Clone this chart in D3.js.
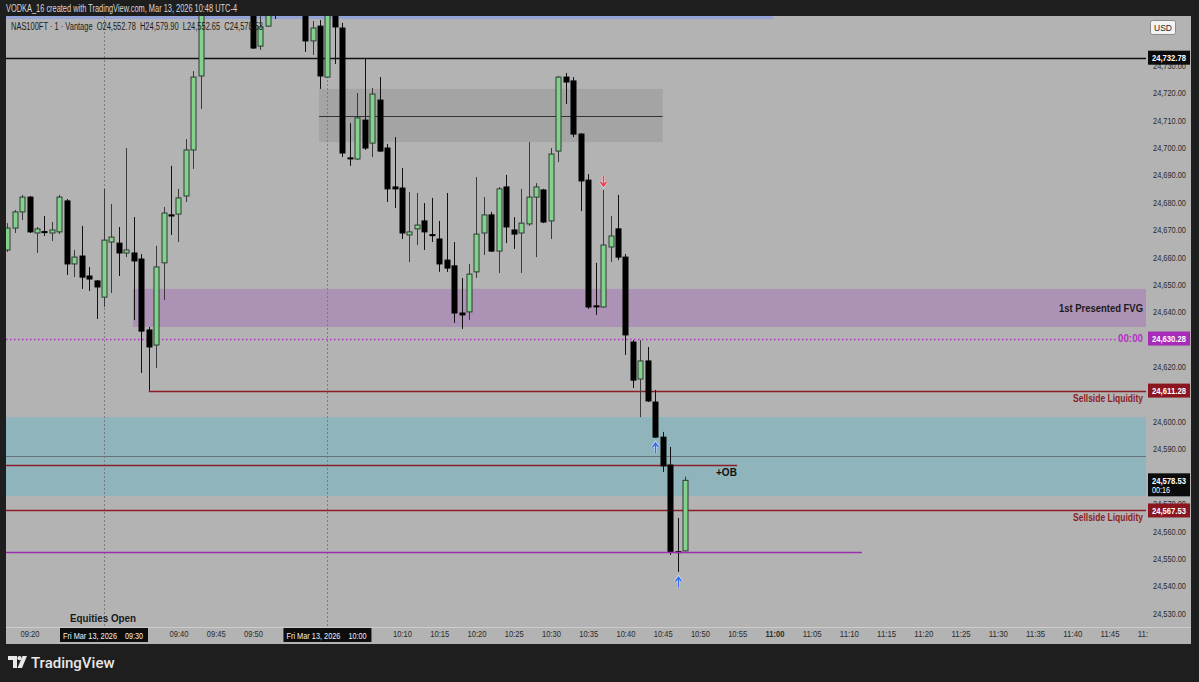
<!DOCTYPE html>
<html lang="en">
<head>
<meta charset="utf-8">
<title>NAS100FT 1m</title>
<script src="https://d3js.org/d3.v7.min.js"></script>
<style>
  html, body { margin: 0; padding: 0; background: #1e1e1e; }
  svg { display: block; font-family: "Liberation Sans", Arial, sans-serif; }
  .ax text { fill: #2b2b2b; font-size: 9.5px; }
</style>
</head>
<body>
<svg id="chart" width="1199" height="682"></svg>
<script>
// 1 minute bars, NAS100FT, Mar 13 2026
var times = ["09:17","09:18","09:19","09:20","09:21","09:22","09:23","09:24","09:25","09:26","09:27","09:28","09:29",
  "09:30","09:31","09:32","09:33","09:34","09:35","09:36","09:37","09:38","09:39","09:40","09:41","09:42","09:43","09:44",
  "09:45","09:46","09:47","09:48","09:49","09:50","09:51","09:52","09:53","09:54","09:55","09:56","09:57","09:58","09:59",
  "10:00","10:01","10:02","10:03","10:04","10:05","10:06","10:07","10:08","10:09","10:10","10:11","10:12","10:13","10:14",
  "10:15","10:16","10:17","10:18","10:19","10:20","10:21","10:22","10:23","10:24","10:25","10:26","10:27","10:28","10:29",
  "10:30","10:31","10:32","10:33","10:34","10:35","10:36","10:37","10:38","10:39","10:40","10:41","10:42","10:43","10:44",
  "10:45","10:46","10:47","10:48"];
var opens = [24662.6,24670.6,24676.5,24681.9,24668.8,24669.3,24668.8,24669.2,24680.5,24657.5,24660.4,24653.1,24651.3,
  24645.4,24665.5,24665.1,24661.5,24661.5,24659.3,24633.4,24627.9,24657.9,24675.4,24675.7,24682.3,24699.1,24726.1,24759,
  24767,24759,24775,24765,24754,24762,24737.0,24744.3,24753,24751,24760,24756,24754,24738.9,24744.3,
  24725.7,24751,24743.6,24696.2,24695.8,24710.0,24701.6,24717.3,24699.8,24685.6,24685.2,24668.1,24670.3,24673.2,24668.2,
  24666.6,24658.9,24656.8,24639.6,24640.0,24654.6,24668.8,24675.4,24662.2,24685.6,24669.9,24668.8,24672.1,24681.9,24684.5,
  24673.2,24698.7,24725.7,24724.3,24704.9,24688.1,24642.2,24641.8,24663.7,24670.3,24660.0,24629.0,24615.5,24622.1,24607.1,
  24594.3,24584.1,24552.5,24552.78];
var highs = [24672.4,24677.2,24682.7,24682.3,24671.0,24675.0,24672.8,24682.7,24681.2,24662.6,24671.4,24656.4,24651.6,
  24684.9,24679.4,24671.0,24699.8,24674.6,24661.1,24634.5,24664.1,24678.3,24693.3,24684.9,24703.1,24727.9,24764,24770,
  24772,24778,24780,24768,24766,24765,24749.5,24757,24760,24763,24768,24762,24757,24746.2,24746.5,
  24757,24755,24745.5,24708.9,24719.9,24732.7,24721.7,24725.7,24701.3,24703.8,24692.5,24683.8,24683.4,24679.7,24681.6,
  24673.2,24683.4,24665.5,24652.4,24657.5,24689.2,24681.9,24676.5,24685.6,24690.0,24674.6,24684.9,24702.0,24687.0,24684.9,
  24699.8,24726.1,24727.2,24725.7,24705.2,24690.3,24657.9,24684.5,24675.0,24682.7,24661.1,24629.7,24629.7,24627.2,24611.5,
  24596.2,24590.7,24564.8,24579.90];
var lows = [24661.9,24668.8,24673.5,24668.8,24661.5,24667.7,24665.9,24668.4,24653.5,24652.7,24648.4,24647.6,24637.4,
  24641.8,24646.9,24653.1,24660.0,24637.0,24617.7,24611.28,24619.5,24644.3,24668.1,24665.5,24680.1,24692.2,24714.1,24753,
  24756,24757,24763,24751,24750,24736.0,24735.6,24744.0,24746.9,24749,24755,24751,24734.9,24733.8,24721.4,
  24725.4,24730.5,24696.5,24693.3,24695.4,24699.1,24696.5,24698.4,24680.1,24677.9,24666.6,24658.2,24664.4,24662.6,24665.5,
  24654.6,24654.6,24636.0,24633.8,24637.0,24652.4,24660.8,24661.9,24654.2,24665.1,24663.0,24654.2,24671.4,24660.0,24672.4,
  24666.6,24694.7,24715.9,24703.8,24676.8,24641.1,24638.9,24641.6,24658.2,24658.9,24624.3,24612.2,24601.6,24607.1,24594.0,
  24581.6,24551.3,24545.1,24552.65];
var closes = [24670.6,24676.5,24681.9,24669.2,24670.3,24669.1,24669.9,24681.9,24657.5,24660.0,24652.7,24652.0,24649.1,
  24666.2,24667.3,24661.5,24662.6,24658.6,24633.0,24627.2,24656.4,24676.1,24675.0,24681.6,24699.1,24725.7,24759,24767,
  24759,24775,24765,24754,24762,24736.3,24744.0,24753,24751,24760,24756,24754,24738.9,24743.6,24726.1,
  24751,24744.0,24698.0,24695.9,24710.8,24699.8,24719.5,24698.7,24684.9,24684.9,24668.8,24669.2,24671.7,24669.2,24668.0,
  24657.5,24656.0,24639.6,24638.9,24653.8,24668.4,24675.4,24662.2,24684.9,24671.0,24668.4,24672.4,24681.9,24685.6,24672.8,
  24697.6,24725.7,24723.9,24704.9,24687.8,24641.8,24642.0,24664.4,24667.7,24660.0,24631.6,24615.1,24622.1,24607.5,24594.3,
  24583.8,24552.4,24552.4,24578.53];

// price & time axis labels (24,610 and 24,630 sit under the badges)
var priceTicks = [24530,24540,24550,24560,24570,24580,24590,24600,24620,24640,24650,24660,24670,24680,24690,24700,24710,24720,24730];
var timeTicks = ["09:20","09:40","09:45","09:50","10:10","10:15","10:20","10:25","10:30","10:35","10:40","10:45","10:50",
  "10:55","11:00","11:05","11:10","11:15","11:20","11:25","11:30","11:35","11:40","11:45","11:50"];
var dateTicks = ["09:30","10:00"];

// drawings: zones [top, bottom, from, to]
var greyZone = [24721.4, 24702.0, "09:58:52", "10:45:00"];
var fvgZone = [24648.4, 24634.5, "09:33:53", null];
var obZone = [24601.6, 24572.8, null, null];
// horizontal levels
var levelHigh = 24732.78, greyMid = 24711.5, midnightOpen = 24630.28;
var sellside1 = 24611.28, obMid = 24587.4, obLine = 24584.1, sellside2 = 24567.53, lowLine = 24552.4;
var lastPrice = 24578.53;

var parseHM = d3.timeParse("%H:%M"), parseHMS = d3.timeParse("%H:%M:%S");
function T(s) { return s.length === 5 ? parseHM(s) : parseHMS(s); }
// squeeze text to the width it has in the screenshot
function fit(sel, w) { return sel.attr("textLength", w).attr("lengthAdjust", "spacingAndGlyphs"); }

var L = 6, R = 1146, AR = 1191, TOP = 16, PB = 627, BOT = 644;

var x = d3.scaleTime().domain([T("09:30"), T("10:48")]).range([104, 685]);
var y = d3.scaleLinear().domain([24530, 24640]).range([613.3, 311.9]);

var svg = d3.select("#chart");
var defs = svg.append("defs");
defs.append("clipPath").attr("id", "plotClip").append("rect")
  .attr("x", L).attr("y", TOP).attr("width", R - L).attr("height", PB - TOP);
defs.append("clipPath").attr("id", "timeClip").append("rect")
  .attr("x", L).attr("y", PB).attr("width", R + 2 - L).attr("height", BOT - PB);

// header
fit(svg.append("text").attr("x", 6).attr("y", 12).attr("fill", "#d6d6d6").attr("font-size", 10)
  .text("VODKA_16 created with TradingView.com, Mar 13, 2026 10:48 UTC-4"), 231);

// pane
svg.append("rect").attr("x", L).attr("y", TOP).attr("width", AR - L).attr("height", BOT - TOP).attr("fill", "#b3b3b3");

var plot = svg.append("g").attr("clip-path", "url(#plotClip)");

function xr(t) { return t === null ? R : x(T(t)); }
function xl(t) { return t === null ? L : x(T(t)); }

plot.append("rect").attr("x", L).attr("y", TOP).attr("width", x(T("10:59:49")) - L).attr("height", 3).attr("fill", "#93a3d6");

// zones
plot.append("rect").attr("x", xl(greyZone[2])).attr("y", y(greyZone[0]))
  .attr("width", xr(greyZone[3]) - xl(greyZone[2])).attr("height", y(greyZone[1]) - y(greyZone[0])).attr("fill", "#a4a4a4");
plot.append("rect").attr("x", xl(fvgZone[2])).attr("y", y(fvgZone[0]))
  .attr("width", xr(fvgZone[3]) - xl(fvgZone[2])).attr("height", y(fvgZone[1]) - y(fvgZone[0])).attr("fill", "#ac92b4");
plot.append("rect").attr("x", xl(obZone[2])).attr("y", y(obZone[0]))
  .attr("width", xr(obZone[3]) - xl(obZone[2])).attr("height", y(obZone[1]) - y(obZone[0])).attr("fill", "#8fb4bc");

// session lines
plot.selectAll("line.vline").data(dateTicks).enter().append("line")
  .attr("x1", function(d) { return Math.round(x(T(d))) + 0.5; })
  .attr("x2", function(d) { return Math.round(x(T(d))) + 0.5; })
  .attr("y1", TOP).attr("y2", PB).attr("stroke", "#7c7c7c").attr("stroke-dasharray", "2,2");

// legend
fit(svg.append("text").attr("x", 11).attr("y", 30).attr("fill", "#1c1c1c").attr("font-size", 10)
  .attr("xml:space", "preserve")
  .text("NAS100FT \u00b7 1 \u00b7 Vantage  O24,552.78  H24,579.90  L24,552.65  C24,578.53"), 252);

function hline(p, from, to, color, w, dash) {
  var ln = plot.append("line").attr("x1", xl(from)).attr("x2", xr(to))
    .attr("y1", Math.round(y(p)) + 0.5).attr("y2", Math.round(y(p)) + 0.5)
    .attr("stroke", color).attr("stroke-width", w);
  if (dash) ln.attr("stroke-dasharray", dash);
}
hline(levelHigh, null, null, "#111", 1.3);
hline(greyMid, greyZone[2], greyZone[3], "#333", 1);
hline(obMid, null, null, "#66747a", 1);
plot.append("line").attr("x1", L).attr("x2", 1116)
  .attr("y1", Math.round(y(midnightOpen)) + 0.5).attr("y2", Math.round(y(midnightOpen)) + 0.5)
  .attr("stroke", "#b62fc4").attr("stroke-width", 1.4).attr("stroke-dasharray", "1.5,2.5");
hline(sellside1, "09:36", null, "#8c1d26", 1.3);
hline(obLine, null, "10:55", "#8c1d26", 1.3);
hline(sellside2, null, null, "#8c1d26", 1.3);

// candles
var bars = times.map(function(t, i) {
  return { t: T(t), o: opens[i], h: highs[i], l: lows[i], c: closes[i], up: closes[i] > opens[i] };
});
var cg = plot.append("g");
cg.selectAll("line.wick").data(bars).enter().append("line")
  .attr("x1", function(d) { return Math.round(x(d.t)) + 0.5; })
  .attr("x2", function(d) { return Math.round(x(d.t)) + 0.5; })
  .attr("y1", function(d) { return y(d.h); }).attr("y2", function(d) { return y(d.l); })
  .attr("stroke", function(d) { return d.up ? "#3a3a3a" : "#111"; }).attr("stroke-width", 1);
cg.selectAll("rect.body").data(bars).enter().append("rect")
  .attr("x", function(d) { return Math.round(x(d.t)) - 2; })
  .attr("width", 5)
  .attr("y", function(d) { return y(Math.max(d.o, d.c)); })
  .attr("height", function(d) { return Math.max(1, Math.abs(y(d.o) - y(d.c))); })
  .attr("fill", function(d) { return d.up ? "#82d18c" : "#000"; })
  .attr("stroke", function(d) { return d.up ? "#2e3b30" : "#000"; }).attr("stroke-width", 1);

hline(lowLine, null, "11:11:45", "#9a2fb0", 1.3);

// signal arrows
function arrow(t, p, dir, color) {
  var cx = Math.round(x(T(t))) + 0.5, cy = y(p);
  var g = plot.append("g").attr("transform", "translate(" + cx + "," + cy + ")");
  var s = dir === "down" ? 1 : -1;
  var d = "M0," + (-5 * s) + "V" + (4 * s) + "M-3," + (1 * s) + "L0," + (5 * s) + "L3," + (1 * s);
  g.append("path").attr("d", d).attr("fill", "none").attr("stroke", "#fff").attr("stroke-width", 3).attr("stroke-opacity", 0.6);
  g.append("path").attr("d", d).attr("fill", "none").attr("stroke", color).attr("stroke-width", 1.5);
}
arrow("10:37", 24687.8, "down", "#f0384a");
arrow("10:44", 24590.3, "up", "#2f6cf2");
arrow("10:47", 24541.3, "up", "#2f6cf2");

// drawing labels
var lab = plot.append("g").attr("font-weight", "bold");
fit(lab.append("text").attr("x", 1059).attr("y", y(24641.4) + 4)
  .attr("font-size", 11).attr("fill", "#1a1a1a").text("1st Presented FVG"), 84);
fit(lab.append("text").attr("x", 1118).attr("y", y(midnightOpen) + 3.5)
  .attr("font-size", 10).attr("fill", "#b62fc4").text("00:00"), 25);
fit(lab.append("text").attr("x", 1073).attr("y", y(sellside1) + 11)
  .attr("font-size", 10).attr("fill", "#8c1d26").text("Sellside Liquidity"), 70);
fit(lab.append("text").attr("x", 1073).attr("y", y(sellside2) + 11)
  .attr("font-size", 10).attr("fill", "#8c1d26").text("Sellside Liquidity"), 70);
lab.append("text").attr("x", x(T("10:52:10"))).attr("y", y(obLine) + 11)
  .attr("font-size", 10).attr("fill", "#111").text("+OB");
fit(lab.append("text").attr("x", 70).attr("y", 622)
  .attr("font-size", 11).attr("fill", "#1a1a1a").text("Equities Open"), 66);

// time axis
svg.append("line").attr("x1", L).attr("x2", AR).attr("y1", PB + 0.5).attr("y2", PB + 0.5).attr("stroke", "#cdcdcd");
var xAxis = d3.axisBottom(x).tickValues(timeTicks.map(T)).tickSize(0).tickPadding(0).tickFormat(d3.timeFormat("%H:%M"));
var xg = svg.append("g").attr("clip-path", "url(#timeClip)")
  .append("g").attr("class", "ax").attr("transform", "translate(0," + (PB + 3) + ")").call(xAxis);
xg.select(".domain").remove();
xg.selectAll(".tick text").attr("textLength", 19).attr("lengthAdjust", "spacingAndGlyphs")
  .attr("font-weight", function(d) { return d3.timeFormat("%M")(d) === "00" ? "bold" : null; });
dateTicks.forEach(function(t) {
  var cx = x(T(t));
  var g = svg.append("g");
  g.append("rect").attr("x", cx - 44).attr("y", PB + 1).attr("width", 88).attr("height", 14).attr("fill", "#0d0d0d");
  fit(g.append("text").attr("x", cx - 41).attr("y", PB + 11.5).attr("fill", "#f2f2f2").attr("font-size", 9)
    .text("Fri Mar 13, 2026"), 54);
  fit(g.append("text").attr("x", cx + 21).attr("y", PB + 11.5).attr("fill", "#f2f2f2")
    .attr("font-size", 9).text(t), 18);
});

// price axis
var yAxis = d3.axisRight(y).tickValues(priceTicks).tickSize(0).tickPadding(0).tickFormat(d3.format(",.2f"));
var yg = svg.append("g").attr("class", "ax").attr("transform", "translate(1153,0)").call(yAxis);
yg.select(".domain").remove();
yg.selectAll(".tick text").attr("textLength", 33).attr("lengthAdjust", "spacingAndGlyphs");

// USD badge
svg.append("rect").attr("x", 1150.5).attr("y", 20.5).attr("width", 25).attr("height", 14).attr("rx", 2)
  .attr("fill", "#f4f4f4").attr("stroke", "#8a8a8a");
svg.append("text").attr("x", 1163).attr("y", 30.5).attr("text-anchor", "middle").attr("font-size", 8.5)
  .attr("fill", "#222").text("USD");

// price badges
var badges = [[levelHigh, "#0b0b0b"], [midnightOpen, "#a62cb8"], [sellside1, "#8b1620"], [sellside2, "#8b1620"]];
badges.forEach(function(b) {
  var cy = y(b[0]);
  svg.append("rect").attr("x", 1148).attr("y", cy - 7).attr("width", 42).attr("height", 14).attr("fill", b[1]);
  fit(svg.append("text").attr("x", 1152).attr("y", cy + 3.5).attr("font-size", 9.5)
    .attr("font-weight", "bold").attr("fill", "#fff").text(d3.format(",.2f")(b[0])), 34);
});
var ly = y(lastPrice);
svg.append("rect").attr("x", 1148).attr("y", ly - 7).attr("width", 42).attr("height", 23).attr("fill", "#0b0b0b");
fit(svg.append("text").attr("x", 1152).attr("y", ly + 3.5).attr("font-size", 9.5)
  .attr("font-weight", "bold").attr("fill", "#fff").text(d3.format(",.2f")(lastPrice)), 34);
fit(svg.append("text").attr("x", 1152).attr("y", ly + 13).attr("font-size", 9).attr("fill", "#fff").text("00:16"), 18);

// footer logo
var logo = svg.append("g").attr("fill", "#e8e8e8");
logo.append("path").attr("d", "M8,656H17V668H13V660H8Z");
logo.append("circle").attr("cx", 19.5).attr("cy", 658.2).attr("r", 2.1);
logo.append("path").attr("d", "M22.5,656H27L22,668H17.5Z");
logo.append("text").attr("x", 31).attr("y", 668).attr("font-family", "Roboto, 'Liberation Sans', sans-serif")
  .attr("font-size", 15).attr("font-weight", 500).text("TradingView");
</script>
</body>
</html>
